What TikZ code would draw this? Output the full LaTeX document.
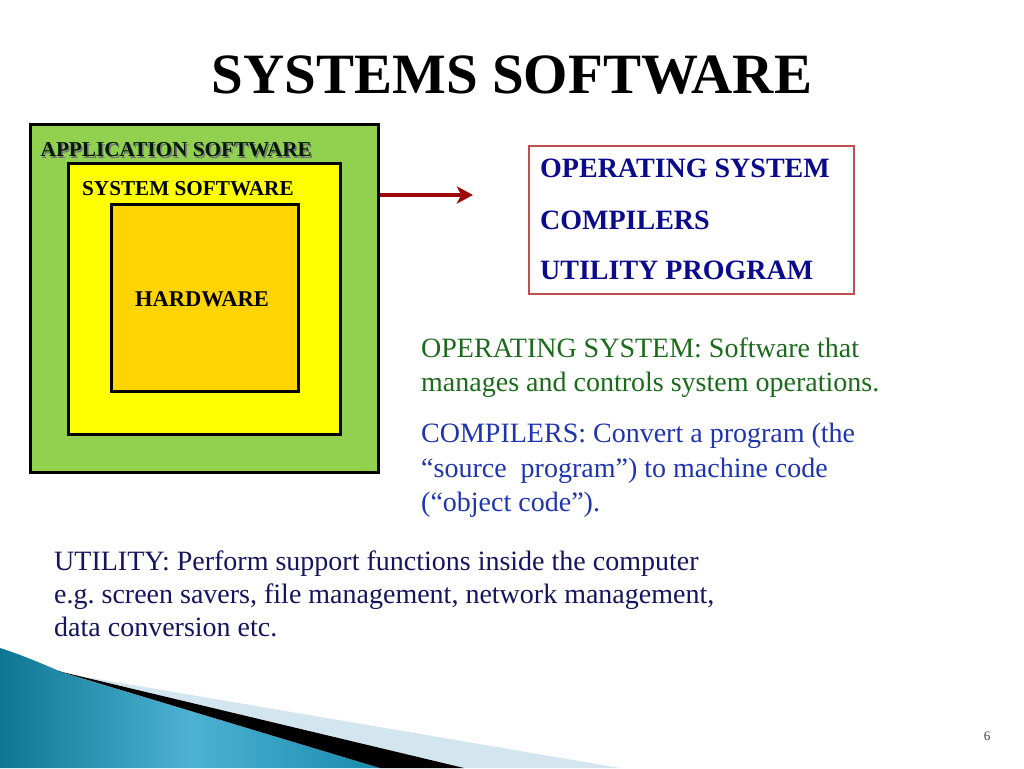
\documentclass[tikz,border=0pt]{standalone}
\usepackage{fontspec}
\setmainfont{Liberation Serif}
\usetikzlibrary{arrows.meta}
\definecolor{appgreen}{HTML}{92D050}
\definecolor{sysyellow}{HTML}{FFFF00}
\definecolor{hwgold}{HTML}{FFD400}
\definecolor{arrowred}{HTML}{9E0A0A}
\definecolor{boxred}{HTML}{C0504D}
\definecolor{navy}{HTML}{0A0A8C}
\definecolor{osgreen}{HTML}{1C6B1C}
\definecolor{compblue}{HTML}{1F35B0}
\definecolor{utilnavy}{HTML}{15155E}
\definecolor{tealdark}{HTML}{0E7692}
\definecolor{teallight}{HTML}{4DB2D3}
\definecolor{tealmid}{HTML}{1A8BAE}
\definecolor{paleblue}{HTML}{D3E5EF}
\tikzset{
  layerbox/.style={draw=black, line width=3pt, anchor=north west, inner sep=0pt},
  lbl/.style={anchor=base west, inner sep=0pt, font=\fontsize{21.2}{24}\selectfont\bfseries},
  bodytxt/.style={anchor=base west, inner sep=0pt, font=\fontsize{28}{33}\selectfont},
  listtxt/.style={anchor=base west, inner sep=0pt, text=navy, font=\fontsize{28}{33}\selectfont\bfseries},
}
\frenchspacing
\begin{document}
\begin{tikzpicture}[x=1pt,y=-1pt]
\useasboundingbox[fill=white] (0,0) rectangle (1024,768);

% bottom decoration
\shade[left color=tealdark, right color=tealmid, middle color=teallight]
  (0,648) .. controls (25,656) and (45,665) .. (64,673) -- (380,768) -- (0,768) -- cycle;
\fill[paleblue] (80,676) -- (620,768) -- (464,768) -- cycle;
\fill[black] (58,671) -- (464,768) -- (380,768) -- cycle;

% title
\node[anchor=base, inner sep=0pt, font=\fontsize{57}{60}\selectfont\bfseries] (title) at (512,93) {SYSTEMS SOFTWARE};

% layered boxes
\node[layerbox, fill=appgreen, minimum width=348pt, minimum height=348pt] (app) at (29,123) {};
\node[layerbox, fill=sysyellow, minimum width=272pt, minimum height=271pt] (sys) at (67,162) {};
\node[layerbox, fill=hwgold, minimum width=187pt, minimum height=187pt] (hw) at (110,203) {};

\node[lbl, text=black!55] at (42,158) {APPLICATION SOFTWARE};
\node[lbl, text=black!90!green] (applbl) at (40.5,156.5) {APPLICATION SOFTWARE};
\node[lbl] (syslbl) at (82,195) {SYSTEM SOFTWARE};
\node[lbl, font=\fontsize{22.5}{26}\selectfont\bfseries] (hwlbl) at (135,306.5) {HARDWARE};

% arrow
\coordinate (aend) at (473,195);
\draw[arrowred, line width=4pt, -{Stealth[length=16pt,width=17pt,inset=4pt]}] (app.east |- aend) -- (aend);

% list box
\node[draw=boxred, line width=1.5pt, anchor=north west, minimum width=325pt, minimum height=148pt, inner sep=0pt] (list) at (528,145) {};
\node[listtxt] (l1) at (540,177) {OPERATING SYSTEM};
\node[listtxt] (l2) at (540,229) {COMPILERS};
\node[listtxt] (l3) at (540,279) {UTILITY PROGRAM};

% descriptions
\node[bodytxt, text=osgreen] (os1) at (421,357) {OPERATING SYSTEM: Software that};
\node[bodytxt, text=osgreen] (os2) at (421,391) {manages and controls system operations.};
\node[bodytxt, text=compblue] (c1) at (421,442) {COMPILERS: Convert a program (the};
\node[bodytxt, text=compblue] (c2) at (421,477) {``source\ \ program'') to machine code};
\node[bodytxt, text=compblue] (c3) at (421,511.5) {(``object code'').};
\node[bodytxt, text=utilnavy] (u1) at (54,570.5) {UTILITY: Perform support functions inside the computer};
\node[bodytxt, text=utilnavy] (u2) at (54,603.5) {e.g. screen savers, file management, network management,};
\node[bodytxt, text=utilnavy] (u3) at (54,636.5) {data conversion etc.};

% page number
\node[anchor=base, inner sep=0pt, text=black!75, font=\fontsize{13}{15}\selectfont] (pg) at (987,740) {6};
\end{tikzpicture}
\end{document}
